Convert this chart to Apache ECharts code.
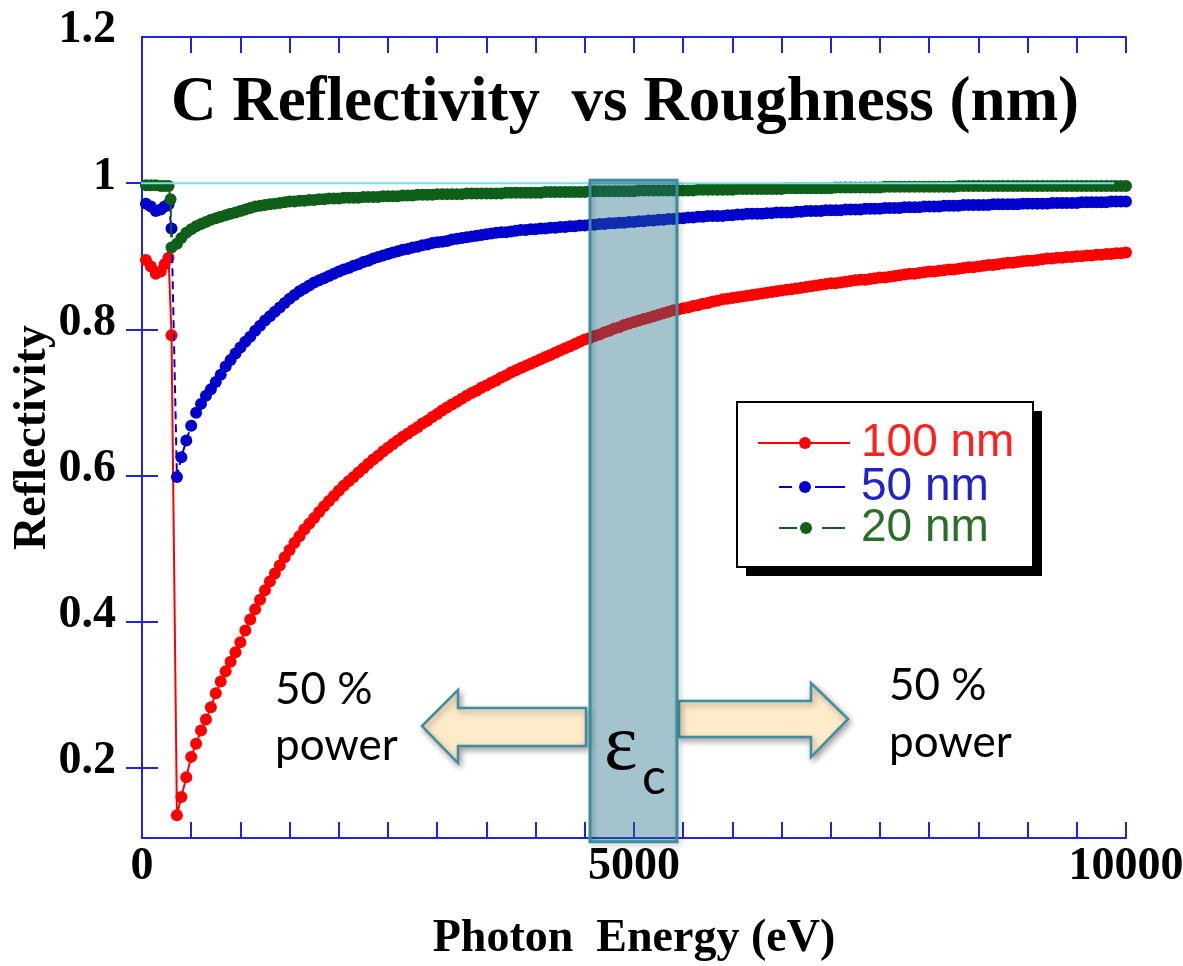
<!DOCTYPE html>
<html>
<head>
<meta charset="utf-8">
<script src="https://cdn.jsdelivr.net/npm/echarts@6/dist/echarts.min.js"></script>
<style>
html, body { margin: 0; padding: 0; background: #ffffff; }
#chart { width: 1183px; height: 966px; }
</style>
</head>
<body>
<div id="chart"></div>
<script>
// Photon energy grid (eV)
const energy = [
  40, 90, 140, 190, 230, 270, 290, 300, 355,
  400, 450, 500, 550, 600, 650, 700, 750, 800, 850, 900, 950,
  1000, 1050, 1100, 1150, 1200, 1250, 1300, 1350, 1400, 1450, 1500, 1550, 1600, 1650, 1700, 1750, 1800, 1850, 1900, 1950,
  2000, 2050, 2100, 2150, 2200, 2250, 2300, 2350, 2400, 2450, 2500, 2550, 2600, 2650, 2700, 2750, 2800, 2850, 2900, 2950,
  3000, 3050, 3100, 3150, 3200, 3250, 3300, 3350, 3400, 3450, 3500, 3550, 3600, 3650, 3700, 3750, 3800, 3850, 3900, 3950,
  4000, 4050, 4100, 4150, 4200, 4250, 4300, 4350, 4400, 4450, 4500, 4550, 4600, 4650, 4700, 4750, 4800, 4850, 4900, 4950,
  5000, 5050, 5100, 5150, 5200, 5250, 5300, 5350, 5400, 5450, 5500, 5550, 5600, 5650, 5700, 5750, 5800, 5850, 5900, 5950,
  6000, 6050, 6100, 6150, 6200, 6250, 6300, 6350, 6400, 6450, 6500, 6550, 6600, 6650, 6700, 6750, 6800, 6850, 6900, 6950,
  7000, 7050, 7100, 7150, 7200, 7250, 7300, 7350, 7400, 7450, 7500, 7550, 7600, 7650, 7700, 7750, 7800, 7850, 7900, 7950,
  8000, 8050, 8100, 8150, 8200, 8250, 8300, 8350, 8400, 8450, 8500, 8550, 8600, 8650, 8700, 8750, 8800, 8850, 8900, 8950,
  9000, 9050, 9100, 9150, 9200, 9250, 9300, 9350, 9400, 9450, 9500, 9550, 9600, 9650, 9700, 9750, 9800, 9850, 9900, 9950,
  10000
];

// Reflectivity, roughness 100 nm
const refl100 = [
  0.895, 0.886, 0.876, 0.879, 0.889, 0.898, null, 0.792, 0.135,
  0.160, 0.187, 0.215, 0.233, 0.251, 0.266, 0.283, 0.302, 0.318, 0.332, 0.345, 0.358,
  0.372, 0.388, 0.403, 0.417, 0.430, 0.443, 0.455, 0.466, 0.477, 0.488, 0.498, 0.508, 0.517, 0.526, 0.534, 0.542, 0.550, 0.558, 0.565, 0.572,
  0.579, 0.586, 0.592, 0.598, 0.604, 0.610, 0.616, 0.622, 0.627, 0.633, 0.638, 0.643, 0.648, 0.653, 0.657, 0.662, 0.666, 0.671, 0.675, 0.680,
  0.684, 0.689, 0.693, 0.697, 0.701, 0.705, 0.709, 0.713, 0.716, 0.720, 0.723, 0.727, 0.730, 0.734, 0.737, 0.741, 0.744, 0.747, 0.750, 0.753,
  0.756, 0.759, 0.762, 0.765, 0.768, 0.771, 0.774, 0.777, 0.780, 0.783, 0.786, 0.788, 0.791, 0.793, 0.796, 0.798, 0.801, 0.803, 0.806, 0.808,
  0.810, 0.812, 0.814, 0.816, 0.818, 0.820, 0.822, 0.824, 0.826, 0.827, 0.829, 0.830, 0.832, 0.833, 0.835, 0.836, 0.838, 0.839, 0.841, 0.842,
  0.843, 0.844, 0.845, 0.846, 0.847, 0.848, 0.849, 0.850, 0.851, 0.852, 0.853, 0.854, 0.855, 0.856, 0.857, 0.858, 0.859, 0.860, 0.861, 0.862,
  0.863, 0.863, 0.864, 0.865, 0.866, 0.867, 0.868, 0.868, 0.869, 0.870, 0.871, 0.871, 0.872, 0.873, 0.874, 0.875, 0.876, 0.876, 0.877, 0.878,
  0.879, 0.879, 0.880, 0.881, 0.882, 0.882, 0.883, 0.884, 0.885, 0.885, 0.886, 0.887, 0.888, 0.888, 0.889, 0.890, 0.891, 0.891, 0.892, 0.893,
  0.894, 0.894, 0.895, 0.896, 0.897, 0.897, 0.898, 0.898, 0.899, 0.899, 0.900, 0.900, 0.901, 0.901, 0.902, 0.902, 0.903, 0.903, 0.904, 0.904,
  0.905
];

// Reflectivity, roughness 50 nm
const refl50 = [
  0.972, 0.968, 0.962, 0.964, 0.968, 0.971, null, 0.938, 0.598,
  0.625, 0.648, 0.668, 0.686, 0.698, 0.709, 0.718, 0.728, 0.738, 0.749, 0.758, 0.767,
  0.775, 0.783, 0.790, 0.798, 0.805, 0.812, 0.818, 0.824, 0.830, 0.836, 0.842, 0.847, 0.852, 0.856, 0.860, 0.864, 0.867, 0.870, 0.873, 0.876,
  0.879, 0.882, 0.884, 0.887, 0.889, 0.892, 0.894, 0.897, 0.899, 0.901, 0.903, 0.905, 0.907, 0.909, 0.910, 0.912, 0.913, 0.915, 0.916, 0.918,
  0.919, 0.920, 0.921, 0.923, 0.924, 0.925, 0.926, 0.927, 0.928, 0.929, 0.930, 0.931, 0.932, 0.933, 0.933, 0.934, 0.935, 0.936, 0.936, 0.937,
  0.937, 0.938, 0.938, 0.939, 0.939, 0.940, 0.940, 0.941, 0.941, 0.942, 0.942, 0.943, 0.943, 0.944, 0.944, 0.945, 0.945, 0.946, 0.946, 0.947,
  0.947, 0.948, 0.948, 0.949, 0.949, 0.950, 0.950, 0.951, 0.951, 0.952, 0.952, 0.953, 0.953, 0.954, 0.954, 0.955, 0.955, 0.955, 0.955, 0.956,
  0.956, 0.957, 0.957, 0.958, 0.958, 0.958, 0.958, 0.959, 0.959, 0.960, 0.960, 0.960, 0.960, 0.961, 0.961, 0.962, 0.962, 0.962, 0.962, 0.963,
  0.963, 0.963, 0.963, 0.964, 0.964, 0.964, 0.964, 0.965, 0.965, 0.965, 0.965, 0.966, 0.966, 0.966, 0.966, 0.967, 0.967, 0.967, 0.967, 0.968,
  0.968, 0.968, 0.968, 0.969, 0.969, 0.969, 0.969, 0.970, 0.970, 0.970, 0.970, 0.970, 0.970, 0.971, 0.971, 0.971, 0.971, 0.971, 0.971, 0.972,
  0.972, 0.972, 0.972, 0.972, 0.972, 0.973, 0.973, 0.973, 0.973, 0.973, 0.973, 0.974, 0.974, 0.974, 0.974, 0.974, 0.974, 0.975, 0.975, 0.975,
  0.975
];

// Reflectivity, roughness 20 nm
const refl20 = [
  0.997, 0.997, 0.997, 0.996, 0.996, 0.996, 0.978, 0.912, 0.917,
  0.925, 0.932, 0.937, 0.941, 0.944, 0.947, 0.950, 0.952, 0.954, 0.956, 0.958, 0.960,
  0.962, 0.964, 0.966, 0.968, 0.969, 0.970, 0.971, 0.972, 0.973, 0.974, 0.975, 0.975, 0.976, 0.976, 0.977, 0.977, 0.978, 0.978, 0.979, 0.979,
  0.979, 0.980, 0.980, 0.980, 0.980, 0.981, 0.981, 0.981, 0.981, 0.982, 0.982, 0.982, 0.982, 0.983, 0.983, 0.983, 0.984, 0.984, 0.984, 0.984,
  0.985, 0.985, 0.985, 0.985, 0.985, 0.985, 0.986, 0.986, 0.986, 0.986, 0.986, 0.986, 0.986, 0.986, 0.987, 0.987, 0.987, 0.987, 0.987, 0.987,
  0.987, 0.987, 0.988, 0.988, 0.988, 0.988, 0.988, 0.988, 0.988, 0.988, 0.988, 0.989, 0.989, 0.989, 0.989, 0.989, 0.989, 0.989, 0.989, 0.989,
  0.989, 0.990, 0.990, 0.990, 0.990, 0.990, 0.990, 0.990, 0.990, 0.990, 0.990, 0.990, 0.990, 0.991, 0.991, 0.991, 0.991, 0.991, 0.991, 0.991,
  0.991, 0.992, 0.992, 0.992, 0.992, 0.992, 0.992, 0.992, 0.992, 0.992, 0.992, 0.993, 0.993, 0.993, 0.993, 0.993, 0.993, 0.993, 0.993, 0.993,
  0.993, 0.994, 0.994, 0.994, 0.994, 0.994, 0.994, 0.994, 0.994, 0.994, 0.994, 0.995, 0.995, 0.995, 0.995, 0.995, 0.995, 0.995, 0.995, 0.995,
  0.995, 0.995, 0.995, 0.995, 0.995, 0.995, 0.996, 0.996, 0.996, 0.996, 0.996, 0.996, 0.996, 0.996, 0.996, 0.996, 0.996, 0.996, 0.996, 0.996,
  0.996, 0.996, 0.996, 0.996, 0.996, 0.996, 0.996, 0.996, 0.996, 0.996, 0.996, 0.996, 0.996, 0.996, 0.996, 0.996, 0.996, 0.996, 0.996, 0.996,
  0.996
];

const seriesNames = ['100 nm', '50 nm', '20 nm'];
const seriesColors = ['#ff0000', '#0000cc', '#0f5e19'];
const legendTextColors = ['#ff2020', '#2222cc', '#2a6e2a'];
const xTickLabels = [0, 5000, 10000];
const yTickLabels = [0.2, 0.4, 0.6, 0.8, 1, 1.2];
const yTicks = [0.2, 0.4, 0.6, 0.8, 1.0];
const unityLine = [[-90, 1], [9880, 1]];
// Critical-energy band: energy span [eV] and reflectivity span
const bandEnergy = [4553, 5437];
const bandRefl = [1.004, 0.099];

const AXIS_BLUE = '#2222e4';
const serifBold = { fontFamily: 'Liberation Serif', fontWeight: 'bold', color: '#000' };

function pairs(values) {
  const out = [];
  for (let i = 0; i < energy.length; i++) {
    if (values[i] !== null) out.push([energy[i], values[i]]);
  }
  return out;
}

const chart = echarts.init(document.getElementById('chart'), null, { renderer: 'canvas' });

const baseX = {
  type: 'value', min: 0, max: 10000, interval: 500,
  axisLine: { lineStyle: { color: AXIS_BLUE, width: 2 } },
  axisTick: { inside: true, length: 16, lineStyle: { color: AXIS_BLUE, width: 2 } },
  splitLine: { show: false }
};
const baseY = {
  type: 'value', min: 0.104, max: 1.2,
  axisLine: { lineStyle: { color: AXIS_BLUE, width: 2 } },
  axisTick: { inside: true, length: 16, customValues: yTicks, lineStyle: { color: AXIS_BLUE, width: 2 } },
  splitLine: { show: false }
};

const curveSeries = [refl100, refl50, refl20].map(function (vals, i) {
  const dash = [null, [8, 5], [14, 6]][i];
  return {
    name: seriesNames[i],
    type: 'line',
    data: pairs(vals),
    symbol: 'circle',
    symbolSize: 12,
    showSymbol: true,
    showAllSymbol: true,
    itemStyle: { color: seriesColors[i] },
    lineStyle: { color: seriesColors[i], width: 2, type: dash || 'solid' },
    z: 2 + i * 0.1,
    silent: true
  };
});

const legendRows = [443, 487, 528];
const legendGraphics = [
  { type: 'rect', shape: { x: 746, y: 411, width: 296, height: 165 }, style: { fill: '#000' }, z: 20 },
  { type: 'rect', shape: { x: 737, y: 402, width: 296, height: 165 }, style: { fill: '#fff', stroke: '#000', lineWidth: 2 }, z: 21 },
  // 100 nm sample
  { type: 'line', shape: { x1: 758, y1: legendRows[0], x2: 850, y2: legendRows[0] }, style: { stroke: seriesColors[0], lineWidth: 2 }, z: 22 },
  { type: 'circle', shape: { cx: 805, cy: legendRows[0], r: 6 }, style: { fill: seriesColors[0] }, z: 22 },
  // 50 nm sample
  { type: 'line', shape: { x1: 779, y1: legendRows[1], x2: 792, y2: legendRows[1] }, style: { stroke: seriesColors[1], lineWidth: 2 }, z: 22 },
  { type: 'circle', shape: { cx: 805, cy: legendRows[1], r: 6 }, style: { fill: seriesColors[1] }, z: 22 },
  { type: 'line', shape: { x1: 815, y1: legendRows[1], x2: 845, y2: legendRows[1] }, style: { stroke: seriesColors[1], lineWidth: 2 }, z: 22 },
  // 20 nm sample
  { type: 'line', shape: { x1: 779, y1: legendRows[2], x2: 797, y2: legendRows[2] }, style: { stroke: seriesColors[2], lineWidth: 2 }, z: 22 },
  { type: 'circle', shape: { cx: 806, cy: legendRows[2], r: 6 }, style: { fill: seriesColors[2] }, z: 22 },
  { type: 'line', shape: { x1: 822, y1: legendRows[2], x2: 845, y2: legendRows[2] }, style: { stroke: seriesColors[2], lineWidth: 2 }, z: 22 }
];
seriesNames.forEach(function (name, i) {
  legendGraphics.push({
    type: 'text', x: 861, y: legendRows[i], z: 22,
    style: { text: name, fill: legendTextColors[i], font: '46px "Liberation Sans"', align: 'left', verticalAlign: 'middle' }
  });
});

const arrowStyle = {
  fill: '#fdebc9', stroke: '#3f8e9f', lineWidth: 2.5,
  shadowBlur: 6, shadowColor: 'rgba(0,0,0,0.35)', shadowOffsetX: 2, shadowOffsetY: 3
};

const option = {
  animation: false,
  backgroundColor: '#ffffff',
  grid: { left: 142, right: 57, top: 37, bottom: 128, containLabel: false, outerBoundsMode: 'none' },
  xAxis: [
    Object.assign({}, baseX, {
      position: 'bottom',
      axisLabel: Object.assign({
        customValues: xTickLabels, fontSize: 46, margin: 6,
        formatter: function (v) { return String(v); }
      }, serifBold),
      name: 'Photon  Energy (eV)', nameLocation: 'middle', nameGap: 78, nameMoveOverlap: false,
      nameTextStyle: Object.assign({ fontSize: 46 }, serifBold)
    }),
    Object.assign({}, baseX, { position: 'top', axisLabel: { show: false } })
  ],
  yAxis: [
    Object.assign({}, baseY, {
      position: 'left',
      axisLabel: Object.assign({
        customValues: yTickLabels, fontSize: 46, margin: 26,
        verticalAlign: 'bottom', lineHeight: 13,
        formatter: function (v) { return String(Math.round(v * 10) / 10); }
      }, serifBold),
      name: 'Reflectivity', nameLocation: 'middle', nameRotate: 90, nameGap: 86, nameMoveOverlap: false,
      nameTextStyle: Object.assign({ fontSize: 46 }, serifBold)
    }),
    Object.assign({}, baseY, { position: 'right', axisLabel: { show: false } })
  ],
  series: curveSeries.concat([
    {
      name: 'unity',
      type: 'line',
      data: unityLine,
      symbol: 'none',
      clip: false,
      lineStyle: { color: '#6fe4ef', width: 2 },
      z: 4,
      silent: true
    },
    {
      name: 'band',
      type: 'custom',
      clip: false,
      z: 5,
      silent: true,
      data: [[bandEnergy[0], bandEnergy[1], bandRefl[0], bandRefl[1]]],
      encode: { x: [0, 1], y: [2, 3] },
      renderItem: function (params, api) {
        const p0 = api.coord([api.value(0), api.value(2)]);
        const p1 = api.coord([api.value(1), api.value(3)]);
        const shape = { x: p0[0], y: p0[1], width: p1[0] - p0[0], height: p1[1] - p0[1] };
        return {
          type: 'group',
          children: [
            { type: 'rect', shape: shape, style: { fill: 'rgba(34,110,134,0.41)' } },
            {
              type: 'rect', shape: shape,
              style: {
                fill: 'none', stroke: '#3b8d9e', lineWidth: 3,
                shadowBlur: 5, shadowColor: 'rgba(0,0,0,0.25)', shadowOffsetX: 2, shadowOffsetY: 2
              }
            }
          ]
        };
      }
    }
  ]),
  graphic: [
    {
      type: 'text', x: 625, y: 104, z: 30,
      style: { text: 'C Reflectivity  vs Roughness (nm)', font: 'bold 63px "Liberation Serif"', fill: '#000',
               align: 'center', verticalAlign: 'middle' }
    },
    { type: 'polygon', z: 3, shape: { points: [[422, 726], [458, 690], [458, 708], [586, 708], [586, 746], [458, 746], [458, 763]] }, style: arrowStyle },
    { type: 'polygon', z: 3, shape: { points: [[679, 701], [811, 701], [811, 683], [848, 719], [811, 757], [811, 737], [679, 737]] }, style: arrowStyle },
    { type: 'text', x: 604, y: 748, z: 30, style: { text: 'ε', font: '80px "Liberation Serif"', fill: '#000', align: 'left', verticalAlign: 'middle' } },
    { type: 'text', x: 642, y: 778, z: 30, style: { text: 'c', font: '50px Lato', fill: '#000', align: 'left', verticalAlign: 'middle' } },
    { type: 'text', x: 275, y: 690, z: 30, style: { text: '50 %', font: '44px Lato', fill: '#000', align: 'left', verticalAlign: 'middle' } },
    { type: 'text', x: 275, y: 746, z: 30, style: { text: 'power', font: '44px Lato', fill: '#000', align: 'left', verticalAlign: 'middle' } },
    { type: 'text', x: 889, y: 686, z: 30, style: { text: '50 %', font: '44px Lato', fill: '#000', align: 'left', verticalAlign: 'middle' } },
    { type: 'text', x: 889, y: 743, z: 30, style: { text: 'power', font: '44px Lato', fill: '#000', align: 'left', verticalAlign: 'middle' } }
  ].concat(legendGraphics)
};

chart.setOption(option);
</script>
</body>
</html>
